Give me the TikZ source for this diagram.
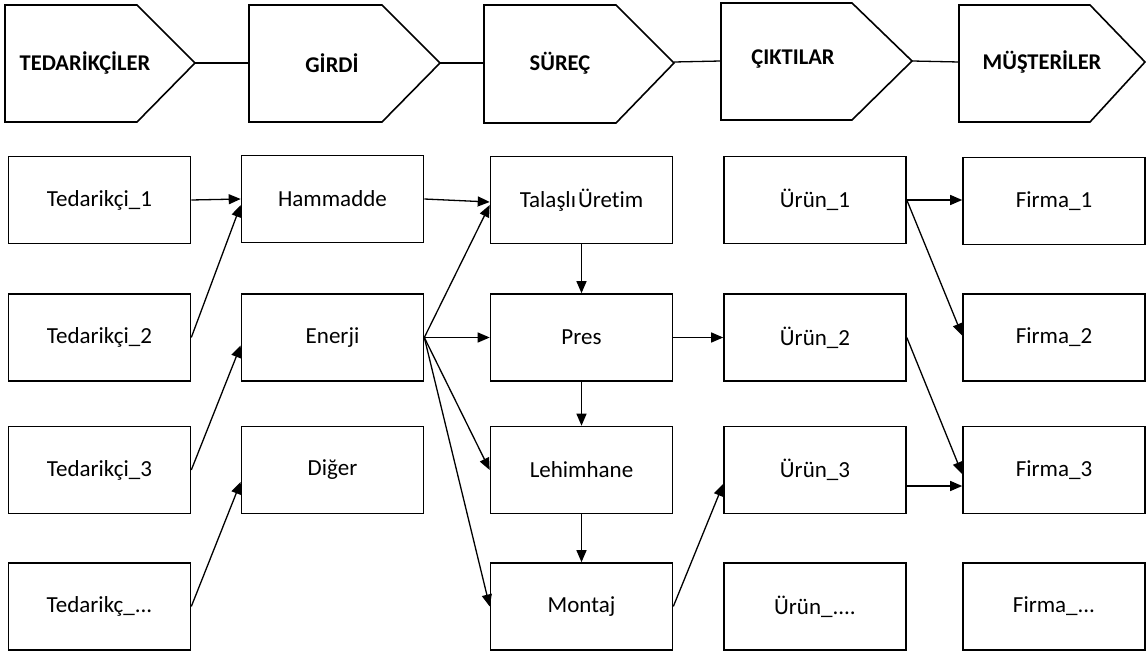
\documentclass[tikz,border=0pt]{standalone}
\usepackage{fontspec}
\setmainfont{Carlito}[Ligatures=NoCommon]
\usetikzlibrary{arrows.meta}

\begin{document}
\begin{tikzpicture}[x=1pt,y=-1pt,
  box/.style={draw, line width=1.6pt, minimum width=182pt, minimum height=87pt,
    inner sep=0pt, font=\fontsize{23}{26}\selectfont},
  flow/.style={-{Triangle[length=12pt,width=10pt]}, line width=1.3pt},
  link/.style={line width=1.3pt},
  stage/.style={draw, line width=1.6pt, line join=miter},
  stagelabel/.style={font=\bfseries\fontsize{22.5}{25}\selectfont, inner sep=0pt}]
\useasboundingbox (0,0) rectangle (1146,655);

% value-chain stages (pentagon arrows)
\draw[stage] (5,5) -- (137,5) -- (195,63) -- (137,122) -- (5,122) -- cycle;
\coordinate (tedOut) at (195,63);
\node[stagelabel] (tedLbl) at (85,63) {TEDARİKÇİLER};

\draw[stage] (249,5) -- (382,5) -- (440,63) -- (382,122) -- (249,122) -- cycle;
\coordinate (girIn) at (249,63); \coordinate (girOut) at (440,63);
\node[stagelabel] (girLbl) at (332,63) {GİRDİ};

\draw[stage] (484,5) -- (616,5) -- (674,63) -- (616,123) -- (484,123) -- cycle;
\coordinate (surIn) at (484,63); \coordinate (surOut) at (674,62);
\node[stagelabel] (surLbl) at (560,63) {SÜREÇ};

\draw[stage] (721,3) -- (852,3) -- (912,61) -- (852,120) -- (721,120) -- cycle;
\coordinate (cikIn) at (721,61); \coordinate (cikOut) at (912,61);
\node[stagelabel] (cikLbl) at (793,59) {ÇIKTILAR};

\draw[stage] (959,5) -- (1090,5) -- (1145,62) -- (1090,122) -- (959,122) -- cycle;
\coordinate (musIn) at (959,62);
\node[stagelabel] (musLbl) at (1042,62) {MÜŞTERİLER};

\draw[link] (tedOut) -- (girIn);
\draw[link] (girOut) -- (surIn);
\draw[link] (surOut) -- (cikIn);
\draw[link] (cikOut) -- (musIn);

% suppliers
\node[box] (t1) at (99.5,200)   {Tedarikçi\_1};
\node[box] (t2) at (99.5,337.5) {Tedarikçi\_2};
\node[box] (t3) at (99.5,470)   {Tedarikçi\_3};
\node[box] (t4) at (99.5,606.5) {Tedarikç\_...};

% inputs
\node[box] (ham) at (332.5,199)   {Hammadde};
\node[box] (ene) at (332.5,337.5) {Enerji};
\node[box] (dig) at (332.5,470)   {Diğer};

% process
\node[box] (tal) at (581.5,200)   {Talaşlı\kern2pt Üretim};
\node[box] (pre) at (581.5,337.5) {Pres};
\node[box] (leh) at (581.5,470)   {Lehimhane};
\node[box] (mon) at (581.5,606.5) {Montaj};

% outputs
\node[box] (u1) at (815,200)   {Ürün\_1};
\node[box] (u2) at (815,337.5) {Ürün\_2};
\node[box] (u3) at (815,470)   {Ürün\_3};
\node[box] (u4) at (815,606.5) {Ürün\_....};

% customers
\node[box] (f1) at (1054,201)   {Firma\_1};
\node[box] (f2) at (1054,337.5) {Firma\_2};
\node[box] (f3) at (1054,470)   {Firma\_3};
\node[box] (f4) at (1054,606.5) {Firma\_...};

% suppliers -> inputs
\draw[flow] (t1.east) -- (ham.west);
\draw[flow] (t2.east) -- ([yshift=-6pt]ham.west);
\draw[flow] (t3.east) -- ([yshift=-8pt]ene.west);
\draw[flow] (t4.east) -- ([yshift=-12pt]dig.west);

% inputs -> process
\draw[flow] (ham.east) -- ([yshift=-2pt]tal.west);
\draw[flow] (ene.east) -- ([yshift=-5pt]tal.west);
\draw[flow] (ene.east) -- (pre.west);
\draw[flow] (ene.east) -- (leh.west);
\draw[flow] (ene.east) -- (mon.west);

% process chain
\draw[flow] (tal.south) -- (pre.north);
\draw[flow] (pre.south) -- (leh.north);
\draw[flow] (leh.south) -- (mon.north);

% process -> outputs
\draw[flow] (pre.east) -- (u2.west);
\draw[flow] (mon.east) -- ([yshift=-14pt]u3.west);

% outputs -> customers
\draw[flow] (u1.east) -- ([yshift=1pt]f1.west);
\draw[flow] (u1.east) -- ([yshift=2pt]f2.west);
\draw[flow] (u2.east) -- ([yshift=-4pt]f3.west);
\draw[flow] ([yshift=-16pt]u3.east) -- ([yshift=-16pt]f3.west);
\end{tikzpicture}
\end{document}
